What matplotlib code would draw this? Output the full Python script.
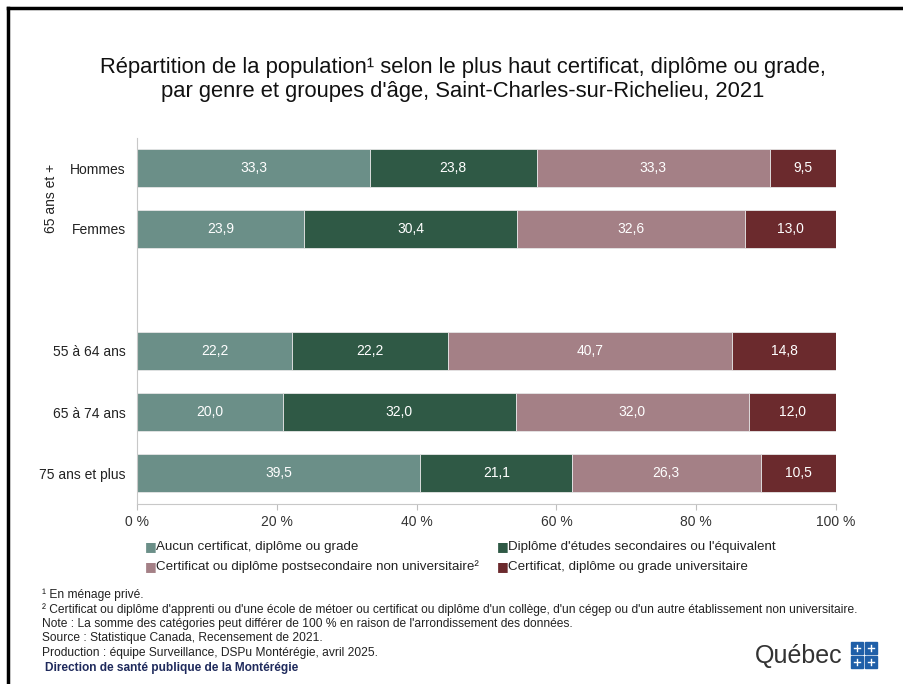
"""Répartition de la population selon le plus haut diplôme - Saint-Charles-sur-Richelieu"""

import numpy as np
import matplotlib
matplotlib.use("Agg")
import matplotlib.pyplot as plt
from matplotlib.lines import Line2D
from matplotlib.patches import Rectangle

# données (%)
rangees = ["Hommes", "Femmes", "55 à 64 ans", "65 à 74 ans", "75 ans et plus"]
aucun = [33.3, 23.9, 22.2, 20.0, 39.5]
secondaire = [23.8, 30.4, 22.2, 32.0, 21.1]
postsecondaire = [33.3, 32.6, 40.7, 32.0, 26.3]
universitaire = [9.5, 13.0, 14.8, 12.0, 10.5]

categories = [
    "Aucun certificat, diplôme ou grade",
    "Diplôme d'études secondaires ou l'équivalent",
    "Certificat ou diplôme postsecondaire non universitaire²",
    "Certificat, diplôme ou grade universitaire",
]
couleurs = ["#6b8f88", "#2f5945", "#a48086", "#6b2a2d"]
graduations = [0, 20, 40, 60, 80, 100]

SANS = ["Liberation Sans", "DejaVu Sans"]

fig = plt.figure(figsize=(9.04, 6.84), dpi=100)
ax = fig.add_axes([137 / 904, 1 - 503.5 / 684, 699 / 904, 366 / 684])

# positions des rangées (une rangée vide entre les deux blocs)
pos_y = [0, 1, 3, 4, 5]
series = np.array([aucun, secondaire, postsecondaire, universitaire])
totaux = series.sum(axis=0)
parts = series / totaux * 100

gauche = np.zeros(len(rangees))
for i, (vals, pct) in enumerate(zip(series, parts)):
    barres = ax.barh(pos_y, pct, left=gauche, height=0.62, color=couleurs[i],
                     edgecolor="#e6e6e6", linewidth=0.6)
    for b, v in zip(barres, vals):
        ax.text(b.get_x() + b.get_width() / 2, b.get_y() + b.get_height() / 2,
                f"{v:.1f}".replace(".", ","), ha="center", va="center",
                color="white", fontsize=10, family=SANS)
    gauche += pct

ax.set_xlim(0, 100)
ax.set_ylim(5.5, -0.5)
ax.set_xticks(graduations)
ax.set_xticklabels([f"{g} %" for g in graduations], fontsize=10, family=SANS,
                   color="#333333")
ax.tick_params(axis="x", length=4, color="#bfbfbf", pad=4)
ax.set_yticks(pos_y)
ax.set_yticklabels(rangees, fontsize=10, family=SANS, color="#222222")
ax.tick_params(axis="y", length=0, pad=8)
for s in ["top", "right"]:
    ax.spines[s].set_visible(False)
for s in ["left", "bottom"]:
    ax.spines[s].set_color("#c8c8c8")

# étiquette de groupe
ax.text(-12.3, 0.5, "65 ans et +", rotation=90, ha="center", va="center",
        fontsize=10, family=SANS, color="#222222")

# titre
fig.text(463 / 904, 1 - 67 / 684,
         "Répartition de la population¹ selon le plus haut certificat, diplôme ou grade,",
         ha="center", va="center", fontsize=15.8, family=SANS, color="#111111")
fig.text(463 / 904, 1 - 92 / 684,
         "par genre et groupes d'âge, Saint-Charles-sur-Richelieu, 2021",
         ha="center", va="center", fontsize=15.8, family=SANS, color="#111111")

# légende
legende_xy = [(145, 547), (497, 547), (145, 567), (497, 567)]
for (lx, ly), lab, c in zip(legende_xy, categories, couleurs):
    fig.text(lx / 904, 1 - ly / 684, "■", ha="left", va="center", fontsize=9,
             color=c, family=["DejaVu Sans"])
    fig.text((lx + 11) / 904, 1 - ly / 684, lab, ha="left", va="center",
             fontsize=9.6, family=SANS, color="#222222")

# notes
notes = [
    "¹ En ménage privé.",
    "² Certificat ou diplôme d'apprenti ou d'une école de métoer ou certificat ou diplôme d'un collège, d'un cégep ou d'un autre établissement non universitaire.",
    "Note : La somme des catégories peut différer de 100 % en raison de l'arrondissement des données.",
    "Source : Statistique Canada, Recensement de 2021.",
    "Production : équipe Surveillance, DSPu Montérégie, avril 2025.",
]
for k, n in enumerate(notes):
    fig.text(42 / 904, 1 - (595 + 14.4 * k) / 684, n, ha="left", va="center",
             fontsize=8.65, family=SANS, color="#222222")
fig.text(45 / 904, 1 - 668 / 684, "Direction de santé publique de la Montérégie",
         ha="left", va="center", fontsize=8.6, family=SANS, color="#1f2a5c",
         weight="semibold")

# logo Québec
fig.text(755 / 904, 1 - 656 / 684, "Québec", ha="left", va="center",
         fontsize=18, family=SANS, color="#333333")
for cx, cy in [(851, 648), (865, 648), (851, 662), (865, 662)]:
    fig.add_artist(Rectangle((cx / 904, 1 - (cy + 6) / 684), 12 / 904, 12 / 684,
                             transform=fig.transFigure, color="#1f5fa8"))
    fig.add_artist(Line2D([(cx + 3) / 904, (cx + 9) / 904],
                          [1 - cy / 684, 1 - cy / 684],
                          transform=fig.transFigure, color="white", lw=1))
    fig.add_artist(Line2D([(cx + 6) / 904, (cx + 6) / 904],
                          [1 - (cy - 3) / 684, 1 - (cy + 3) / 684],
                          transform=fig.transFigure, color="white", lw=1))

# cadre
fig.add_artist(Line2D([8 / 904, 1], [1 - 8 / 684, 1 - 8 / 684],
                      transform=fig.transFigure, color="black", lw=2.5))
fig.add_artist(Line2D([8 / 904, 8 / 904], [0, 1 - 8 / 684],
                      transform=fig.transFigure, color="black", lw=2.5))

fig.savefig("out.png", dpi=100)
